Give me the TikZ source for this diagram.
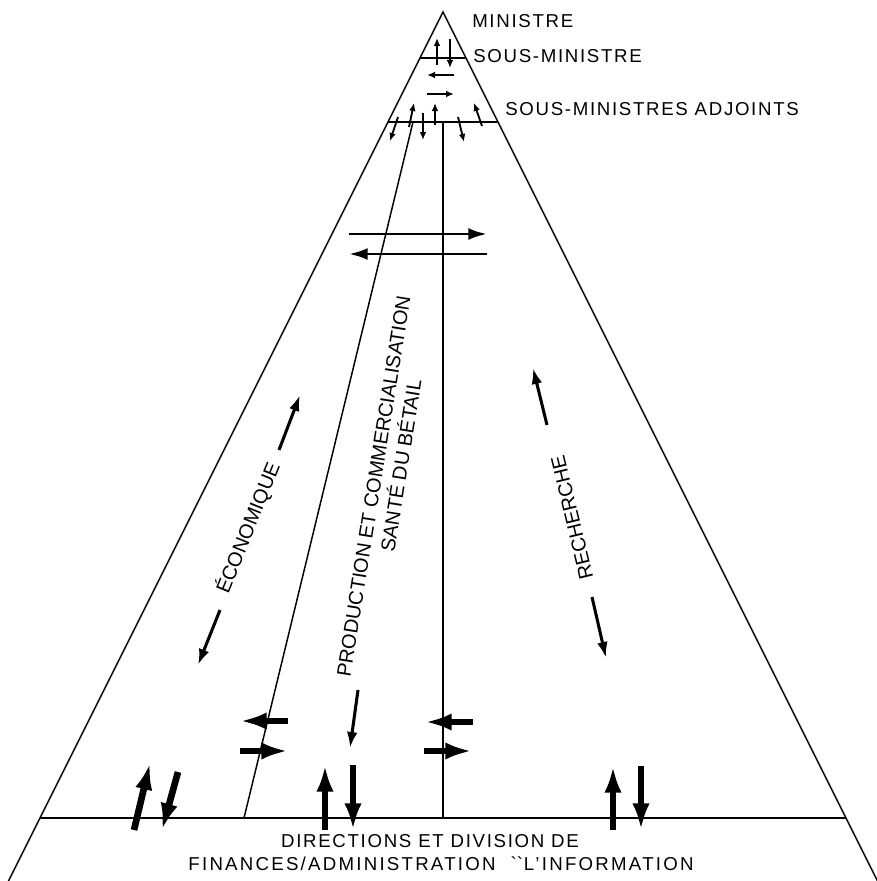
\documentclass[tikz,border=0pt]{standalone}
\usepackage{fontspec}
\setmainfont{Liberation Sans}[LetterSpace=9]
\newfontfamily\slantfont{Liberation Sans}
\usepackage{tikz}
\usetikzlibrary{arrows.meta,calc}

\tikzset{
  pyr/.style={line width=1.1pt},
  lbl/.style={inner sep=0pt, font=\fontsize{14}{18}\selectfont},
  rotlbl/.style={inner sep=0pt, font=\slantfont\fontsize{15}{18}\selectfont},
  tinyarr/.style={line width=1.4pt, -{Latex[length=6pt,width=5pt]}},
  midarr/.style={line width=2.2pt, -{Latex[length=14pt,width=9pt]}},
  longarr/.style={line width=2.3pt, -{Latex[length=12pt,width=8pt]}},
  fatarr/.style={line width=5pt, -{Latex[length=20pt,width=13pt]}}
}

\begin{document}
\begin{tikzpicture}[x=0.75pt, y=-0.75pt]
        \useasboundingbox (0,0) rectangle (877,881);

        % Pyramid
        \coordinate (apex) at (443,12);
        \coordinate (footL) at (8.5,881);
        \coordinate (footR) at (877.5,881);
        \draw[pyr] (footL) -- (apex) -- (footR);

        % Levels
        \draw[pyr] (420,58) -- (466,58);
        \draw[pyr] (388,122) -- (498,122);
        \draw[pyr] (40,818) -- (846,818);

        % Sectors
        \draw[pyr] (443,122) -- (443,818);
        \draw[pyr] (413,122) -- (244,818);

        % Top labels
        \node[lbl, anchor=base west] (min) at (472,28) {MINISTRE};
        \node[lbl, anchor=base west] (smin) at (473,63) {SOUS-MINISTRE};
        \node[lbl, anchor=base west] (sma) at (505,115) {SOUS-MINISTRES ADJOINTS};

        % Small arrows at the top
        \draw[tinyarr] (437,65) -- (437,38);
        \draw[tinyarr] (450,39) -- (450,68);
        \draw[tinyarr] (454,75) -- (427,75);
        \draw[tinyarr] (427,94) -- (454,94);

        \draw[tinyarr] (398,117) -- (390,141);
        \draw[tinyarr] (409,127) -- (414,103);
        \draw[tinyarr] (423,113) -- (423,140);
        \draw[tinyarr] (435,125) -- (435,103);
        \draw[tinyarr] (458,117) -- (464,142);
        \draw[tinyarr] (482,126) -- (474,103);

        % Across the sectors
        \draw[midarr] (349,234) -- (487,234);
        \draw[midarr] (487,254) -- (349,254);

        % Sector labels
        \node[rotlbl, rotate=68] (eco) at (248,528) {ÉCONOMIQUE};
        \draw[longarr] (279,450) -- (300,395);
        \draw[longarr] (220,610) -- (198,665);

        \node[rotlbl, rotate=81, align=center] (prod) at (385.5,488)
          {PRODUCTION ET COMMERCIALISATION\\[0pt]\hspace*{37pt}SANTÉ DU BÉTAIL};
        \draw[longarr] (358,690) -- (350,748);

        \node[rotlbl, rotate=103.5] (rech) at (572,518) {RECHERCHE};
        \draw[longarr] (547,425) -- (533,368);
        \draw[longarr] (592,597) -- (606,658);

        % Thick arrows near the base
        \draw[fatarr] (288,721) -- (240,721);
        \draw[fatarr] (240,751) -- (288,751);
        \draw[fatarr] (473,722) -- (425,722);
        \draw[fatarr] (424,751) -- (472,751);

        \draw[fatarr] (134,830) -- (150,763);
        \draw[fatarr] (178,772) -- (162,830);
        \draw[fatarr] (325,830) -- (325,765);
        \draw[fatarr] (353,765) -- (353,830);
        \draw[fatarr] (613,830) -- (613,766);
        \draw[fatarr] (641,766) -- (641,830);

        % Base labels
        \node[lbl, anchor=base] (dir) at (430,847) {DIRECTIONS ET DIVISION DE};
        \node[lbl, anchor=base] (fin) at (441,870)
          {\addfontfeature{LetterSpace=12}FINANCES/ADMINISTRATION\hspace{0.8em}\textasciigrave\textasciigrave\hspace{0.05em}L'INFORMATION};
    \end{tikzpicture}
\end{document}
